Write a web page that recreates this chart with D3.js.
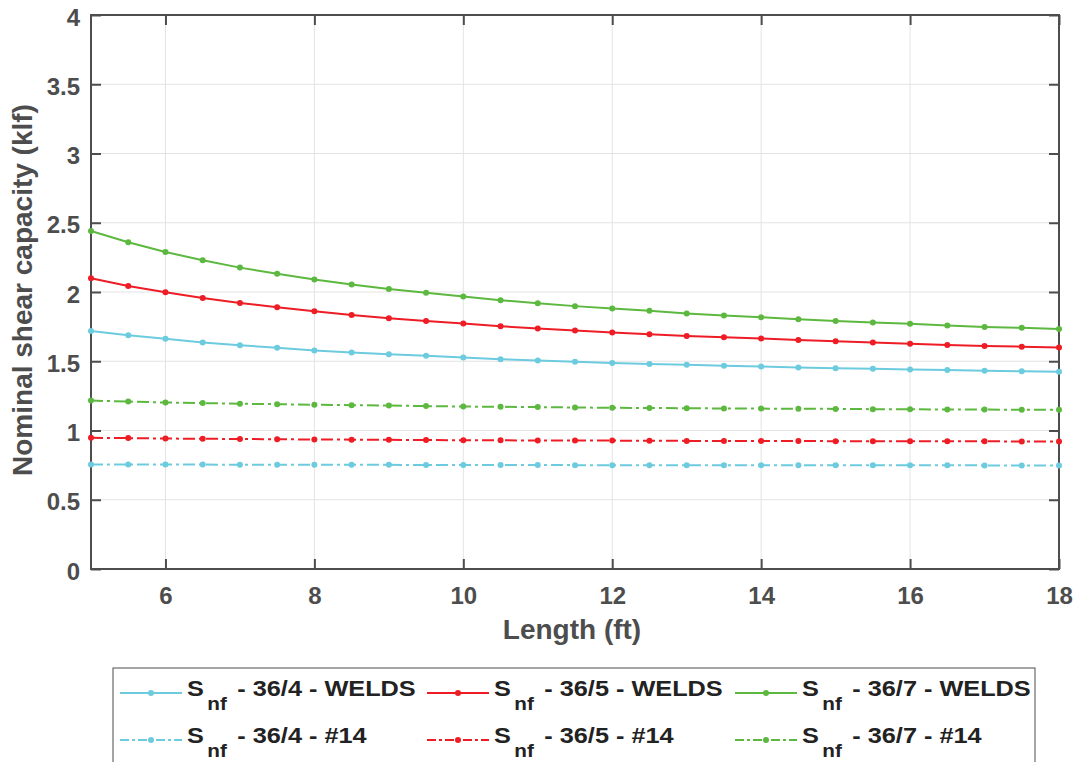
<!DOCTYPE html>
<html>
<head>
<meta charset="utf-8">
<script src="https://cdn.jsdelivr.net/npm/d3@7"></script>
<style>
  body { margin: 0; background: #fff; }
  text { font-family: Arial, "Liberation Sans", sans-serif; font-weight: bold; }
</style>
</head>
<body>
<div id="chart"></div>
<script>
// lengths (ft)
const lengths = d3.range(5, 18.01, 0.5);

// nominal shear capacity (klf)
const welds364 = [1.719, 1.688, 1.662, 1.636, 1.616, 1.597, 1.578, 1.563, 1.551, 1.539, 1.527,
  1.515, 1.505, 1.497, 1.488, 1.481, 1.474, 1.467, 1.462, 1.455, 1.450, 1.445, 1.440, 1.436, 1.431, 1.427, 1.424];
const welds365 = [2.099, 2.044, 1.998, 1.957, 1.921, 1.890, 1.861, 1.834, 1.811, 1.791, 1.772,
  1.753, 1.736, 1.722, 1.707, 1.695, 1.683, 1.673, 1.664, 1.654, 1.645, 1.635, 1.626, 1.618, 1.611, 1.605, 1.599];
const welds367 = [2.441, 2.359, 2.289, 2.229, 2.176, 2.131, 2.090, 2.054, 2.022, 1.994, 1.967,
  1.941, 1.919, 1.898, 1.880, 1.864, 1.845, 1.830, 1.818, 1.804, 1.791, 1.780, 1.770, 1.758, 1.748, 1.741, 1.732];
const no14_364 = [0.755, 0.755, 0.754, 0.754, 0.753, 0.753, 0.752, 0.752, 0.752, 0.751, 0.751,
  0.751, 0.751, 0.750, 0.750, 0.750, 0.750, 0.750, 0.749, 0.749, 0.749, 0.749, 0.749, 0.749, 0.748, 0.748, 0.748];
const no14_365 = [0.947, 0.945, 0.942, 0.940, 0.939, 0.937, 0.935, 0.934, 0.933, 0.931, 0.930,
  0.929, 0.928, 0.927, 0.927, 0.926, 0.925, 0.925, 0.924, 0.924, 0.923, 0.923, 0.922, 0.922, 0.922, 0.921, 0.921];
const no14_367 = [1.216, 1.209, 1.202, 1.198, 1.193, 1.190, 1.186, 1.183, 1.180, 1.176, 1.173,
  1.171, 1.169, 1.166, 1.164, 1.162, 1.161, 1.159, 1.158, 1.157, 1.156, 1.154, 1.153, 1.152, 1.151, 1.150, 1.149];

const xTicks = [6, 8, 10, 12, 14, 16, 18];
const yTicks = [0, 0.5, 1, 1.5, 2, 2.5, 3, 3.5, 4];

const series = [
  { name: "36/4 - WELDS", values: welds364, color: "#6ccbde", dash: null },
  { name: "36/5 - WELDS", values: welds365, color: "#ee1c25", dash: null },
  { name: "36/7 - WELDS", values: welds367, color: "#5cb83f", dash: null },
  { name: "36/4 - #14", values: no14_364, color: "#6ccbde", dash: "12,4,3,4" },
  { name: "36/5 - #14", values: no14_365, color: "#ee1c25", dash: "12,4,3,4" },
  { name: "36/7 - #14", values: no14_367, color: "#5cb83f", dash: "12,4,3,4" }
];

const W = 1074, H = 762;
const margin = { left: 91, right: 15, top: 15, bottom: 193 };
const axisColor = "#4d4d4d";

const svg = d3.select("#chart").append("svg")
  .attr("width", W).attr("height", H);

const x = d3.scaleLinear().domain([5, 18]).range([margin.left, W - margin.right]);
const y = d3.scaleLinear().domain([0, 4]).range([H - margin.bottom, margin.top]);

// grid
svg.append("g").selectAll("line").data(xTicks).join("line")
  .attr("x1", d => x(d)).attr("x2", d => x(d))
  .attr("y1", y(0)).attr("y2", y(4))
  .attr("stroke", "#e3e3e3").attr("stroke-width", 1);
svg.append("g").selectAll("line").data(yTicks).join("line")
  .attr("x1", x(5)).attr("x2", x(18))
  .attr("y1", d => y(d)).attr("y2", d => y(d))
  .attr("stroke", "#e3e3e3").attr("stroke-width", 1);

// axes
const styleAxis = g => {
  g.select(".domain").remove();
  g.selectAll(".tick line").attr("stroke", axisColor).attr("stroke-width", 2);
  g.selectAll(".tick text").attr("fill", axisColor).style("font-size", "24px");
};
svg.append("g").attr("transform", `translate(0,${y(0)})`)
  .call(d3.axisBottom(x).tickValues(xTicks).tickSizeInner(-10).tickSizeOuter(0).tickPadding(18))
  .call(styleAxis);
svg.append("g").attr("transform", `translate(${x(5)},0)`)
  .call(d3.axisLeft(y).tickValues(yTicks).tickFormat(d => String(d))
    .tickSizeInner(-10).tickSizeOuter(0).tickPadding(11))
  .call(styleAxis)
  .call(g => g.selectAll(".tick text").attr("dy", "0.42em"));
svg.append("g").attr("transform", `translate(0,${y(4)})`)
  .call(d3.axisTop(x).tickValues(xTicks).tickSizeInner(-10).tickSizeOuter(0).tickFormat(""))
  .call(styleAxis);
svg.append("g").attr("transform", `translate(${x(18)},0)`)
  .call(d3.axisRight(y).tickValues(yTicks).tickSizeInner(-10).tickSizeOuter(0).tickFormat(""))
  .call(styleAxis);

svg.append("rect")
  .attr("x", x(5)).attr("y", y(4))
  .attr("width", x(18) - x(5)).attr("height", y(0) - y(4))
  .attr("fill", "none").attr("stroke", axisColor).attr("stroke-width", 2);

// lines
const line = d3.line().x((d, i) => x(lengths[i])).y(d => y(d));
const gs = svg.append("g").selectAll("g").data(series).join("g");
gs.append("path")
  .attr("d", d => line(d.values))
  .attr("fill", "none")
  .attr("stroke", d => d.color)
  .attr("stroke-width", 2)
  .attr("stroke-dasharray", d => d.dash);
gs.selectAll("circle").data(d => d.values.map((v, i) => ({ v, i, c: d.color }))).join("circle")
  .attr("cx", d => x(lengths[d.i])).attr("cy", d => y(d.v))
  .attr("r", 3).attr("fill", d => d.c);

// axis labels
svg.append("text")
  .attr("x", 572).attr("y", 639)
  .attr("text-anchor", "middle").attr("fill", axisColor)
  .style("font-size", "28px").text("Length (ft)");
svg.append("text")
  .attr("transform", `translate(32,${(y(0) + y(4)) / 2 - 2}) rotate(-90)`)
  .attr("text-anchor", "middle").attr("fill", axisColor)
  .style("font-size", "28px").text("Nominal shear capacity (klf)");

// legend
svg.append("rect")
  .attr("x", 113).attr("y", 668).attr("width", 922).attr("height", 110)
  .attr("fill", "#fff").attr("stroke", "#4d4d4d").attr("stroke-width", 1);
const colX = [120, 427, 735];
const rowY = [693, 740];
series.forEach((s, k) => {
  const cx = colX[k % 3], cy = rowY[Math.floor(k / 3)];
  const g = svg.append("g");
  g.append("line").attr("x1", cx).attr("x2", cx + 62).attr("y1", cy).attr("y2", cy)
    .attr("stroke", s.color).attr("stroke-width", 2).attr("stroke-dasharray", s.dash ? "9,3,3,3" : null);
  g.append("circle").attr("cx", cx + 31).attr("cy", cy).attr("r", 3).attr("fill", s.color);
  const t = g.append("text")
    .attr("transform", `translate(${cx + 67},${cy + 3}) scale(1.15,1)`)
    .attr("fill", "#222").style("font-size", "22px");
  t.append("tspan").text("S");
  t.append("tspan").attr("dx", 3).attr("dy", 14).style("font-size", "18px").text("nf");
  t.append("tspan").attr("dx", 3).attr("dy", -14).text(" - " + s.name);
});
</script>
</body>
</html>
